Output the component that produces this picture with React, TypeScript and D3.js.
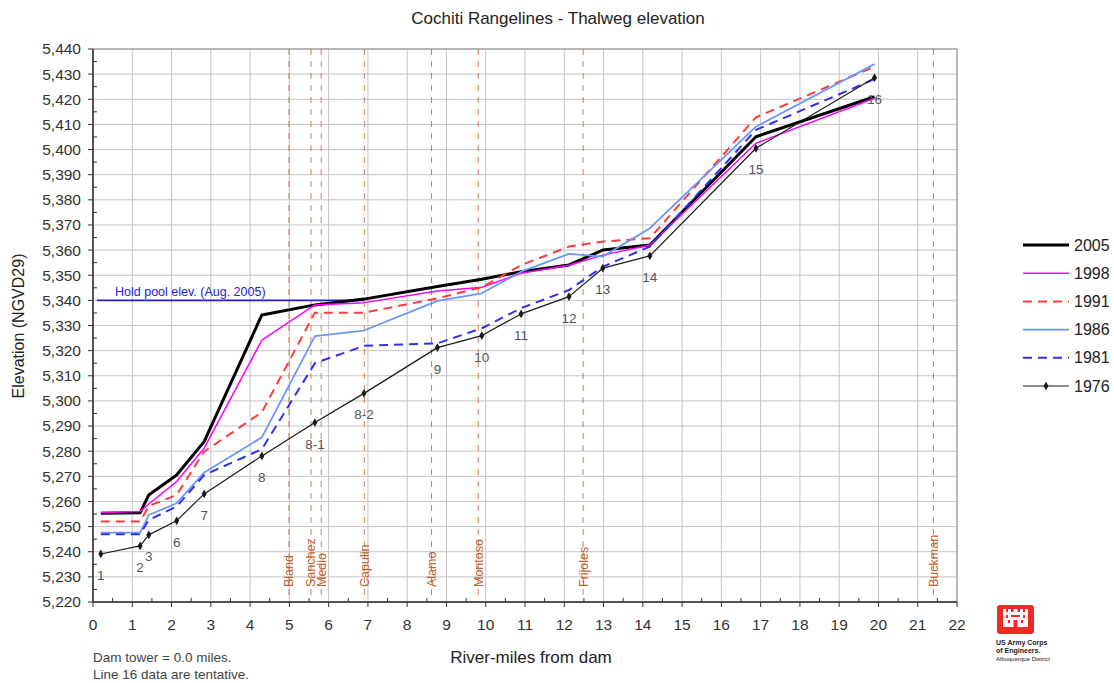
import React from "react";
import * as d3 from "d3";

// ---------- data ----------
const rangeMiles = [0.2, 1.2, 1.42, 2.13, 2.83, 4.3, 5.65, 6.9, 8.77, 9.9, 10.9, 12.12, 12.98, 14.18, 16.88, 19.9];
const rangeLabels = ["1", "2", "3", "6", "7", "8", "8-1", "8-2", "9", "10", "11", "12", "13", "14", "15", "16"];

const elev2005 = [5255.3, 5255.5, 5262.6, 5270.5, 5283.8, 5334.2, 5338.2, 5340.5, 5345.5, 5348.4, 5351.4, 5354.1, 5360.0, 5362.0, 5405.1, 5421.0];
const elev1998 = [5255.6, 5256.0, 5259.0, 5267.9, 5281.2, 5324.2, 5338.2, 5339.1, 5343.7, 5345.2, 5350.8, 5354.0, 5358.0, 5362.0, 5402.5, 5420.4];
const elev1991 = [5252.0, 5252.0, 5258.2, 5262.6, 5279.8, 5295.5, 5335.1, 5335.1, 5340.8, 5345.2, 5354.0, 5361.4, 5363.4, 5364.7, 5412.8, 5433.0];
const elev1986 = [5247.6, 5247.6, 5254.6, 5259.3, 5271.5, 5285.5, 5325.8, 5328.0, 5339.8, 5342.8, 5351.4, 5358.5, 5357.4, 5368.7, 5409.1, 5434.0];
const elev1981 = [5247.0, 5247.0, 5252.6, 5258.0, 5270.5, 5280.8, 5315.0, 5321.9, 5322.9, 5328.9, 5336.9, 5344.1, 5353.4, 5361.4, 5407.8, 5428.0];
const elev1976 = [5239.1, 5242.3, 5246.7, 5252.3, 5263.0, 5278.1, 5291.4, 5303.0, 5321.2, 5326.0, 5334.6, 5341.5, 5352.8, 5357.7, 5400.5, 5428.6];

const seriesNames = ["2005", "1998", "1991", "1986", "1981", "1976"];
const seriesValues = [elev2005, elev1998, elev1991, elev1986, elev1981, elev1976];

const landmarkNames = ["Bland", "Sanchez", "Medio", "Capulin", "Alamo", "Montoso", "Frijoles", "Buckman"];
const landmarkMiles = [4.99, 5.55, 5.81, 6.91, 8.62, 9.81, 12.48, 21.4];

const holdPoolElev = 5340;
const holdPoolMiles = [0.1, 6.9];
const holdPoolLabel = "Hold pool elev. (Aug. 2005)";

const xTicks = d3.range(0, 23, 1);
const yTicks = d3.range(5220, 5441, 10);
const xMinor = d3.range(0.5, 22, 1);
const yMinor = d3.range(5225, 5440, 10);

// ---------- styles ----------
const seriesStyle: Record<string, { color: string; width: number; dash?: string; marker?: boolean }> = {
  "2005": { color: "#000000", width: 3 },
  "1998": { color: "#ff00ff", width: 1.5 },
  "1991": { color: "#ff3b3b", width: 2, dash: "9,6" },
  "1986": { color: "#6b95ff", width: 1.8 },
  "1981": { color: "#3030f0", width: 2, dash: "9,6" },
  "1976": { color: "#1a1a1a", width: 1.2, marker: true },
};

const W = 1114;
const H = 683;
const plot = { left: 93, right: 957, top: 49, bottom: 602 };
const FONT = "'Liberation Sans', Arial, Helvetica, sans-serif";
const LANDMARK_COLOR = "#c0602c";

export default function App() {
  const x = d3.scaleLinear().domain([0, 22]).range([plot.left, plot.right]);
  const y = d3.scaleLinear().domain([5220, 5440]).range([plot.bottom, plot.top]);
  const line = d3
    .line<number>()
    .x((_, i) => x(rangeMiles[i]))
    .y((v) => y(v));

  const fmt = d3.format(",");

  return (
    <svg
      width={W}
      height={H}
      style={{ position: "absolute", left: 0, top: 0, background: "#fff" }}
      fontFamily={FONT}
    >
      <rect x={0} y={0} width={W} height={H} fill="#fff" />
      {/* title */}
      <text x={558} y={24} textAnchor="middle" fontSize={17} fill="#222">
        Cochiti Rangelines - Thalweg elevation
      </text>

      {/* grid */}
      {xTicks.map((t) => (
        <line key={"gx" + t} x1={x(t)} x2={x(t)} y1={plot.top} y2={plot.bottom} stroke="#c4c4c4" strokeWidth={1} />
      ))}
      {yTicks.map((t) => (
        <line key={"gy" + t} x1={plot.left} x2={plot.right} y1={y(t)} y2={y(t)} stroke="#c4c4c4" strokeWidth={1} />
      ))}
      <rect
        x={plot.left}
        y={plot.top}
        width={plot.right - plot.left}
        height={plot.bottom - plot.top}
        fill="none"
        stroke="#9a9a9a"
        strokeWidth={1.2}
      />

      {/* landmark lines */}
      {landmarkMiles.map((m, i) => (
        <g key={"lm" + i}>
          <line
            x1={x(m)}
            x2={x(m)}
            y1={plot.top}
            y2={plot.bottom}
            stroke={LANDMARK_COLOR}
            strokeOpacity={0.8}
            strokeWidth={1}
            strokeDasharray="6,6"
          />
          <text
            transform={`translate(${x(m) + 4.5},587) rotate(-90)`}
            fontSize={12.5}
            fill={LANDMARK_COLOR}
          >
            {landmarkNames[i]}
          </text>
        </g>
      ))}

      {/* hold pool */}
      <line
        x1={x(holdPoolMiles[0])}
        x2={x(holdPoolMiles[1])}
        y1={y(holdPoolElev)}
        y2={y(holdPoolElev)}
        stroke="#2323d8"
        strokeWidth={1.6}
      />
      <text x={115} y={y(holdPoolElev) - 4.5} fontSize={12.5} fill="#2323d8">
        {holdPoolLabel}
      </text>

      {/* series */}
      {seriesNames.map((name, si) => {
        const st = seriesStyle[name];
        return (
          <g key={name}>
            <path
              d={line(seriesValues[si]) || ""}
              fill="none"
              stroke={st.color}
              strokeWidth={st.width}
              strokeDasharray={st.dash}
              strokeLinejoin="round"
            />
            {st.marker &&
              seriesValues[si].map((v, i) => (
                <path
                  key={i}
                  d={d3.symbol(d3.symbolDiamond, 22)() || ""}
                  transform={`translate(${x(rangeMiles[i])},${y(v)})`}
                  fill={st.color}
                />
              ))}
          </g>
        );
      })}

      {/* rangeline labels */}
      {rangeLabels.map((lb, i) => (
        <text
          key={"rl" + i}
          x={x(rangeMiles[i])}
          y={y(elev1976[i]) + 26}
          textAnchor="middle"
          fontSize={13.5}
          fill="#555"
        >
          {lb}
        </text>
      ))}

      {/* axes */}
      <line x1={plot.left} x2={plot.left} y1={plot.top} y2={plot.bottom} stroke="#333" strokeWidth={1.5} />
      <line x1={plot.left} x2={plot.right} y1={plot.bottom} y2={plot.bottom} stroke="#333" strokeWidth={1.5} />
      {yTicks.map((t) => (
        <g key={"yt" + t}>
          <line x1={plot.left - 5} x2={plot.left} y1={y(t)} y2={y(t)} stroke="#333" />
          <text x={plot.left - 12} y={y(t)} dy="0.35em" textAnchor="end" fontSize={15.5} fill="#333">
            {fmt(t)}
          </text>
        </g>
      ))}
      {yMinor.map((t) => (
        <line key={"ym" + t} x1={plot.left} x2={plot.left + 4} y1={y(t)} y2={y(t)} stroke="#333" />
      ))}
      {xTicks.map((t) => (
        <g key={"xt" + t}>
          <line x1={x(t)} x2={x(t)} y1={plot.bottom} y2={plot.bottom + 5} stroke="#333" />
          <text x={x(t)} y={plot.bottom + 28} textAnchor="middle" fontSize={15.5} fill="#333">
            {t}
          </text>
        </g>
      ))}
      {xMinor.map((t) => (
        <line key={"xm" + t} x1={x(t)} x2={x(t)} y1={plot.bottom - 4} y2={plot.bottom} stroke="#333" />
      ))}

      {/* axis titles */}
      <text x={531} y={663} textAnchor="middle" fontSize={17} fill="#222">
        River-miles from dam
      </text>
      <text transform="translate(24,326) rotate(-90)" textAnchor="middle" fontSize={16} fill="#222">
        Elevation (NGVD29)
      </text>

      {/* footnote */}
      <text x={93} y={662} fontSize={13.5} fill="#444">
        Dam tower = 0.0 miles.
      </text>
      <text x={93} y={679} fontSize={13.5} fill="#444">
        Line 16 data are tentative.
      </text>

      {/* legend */}
      {seriesNames.map((name, i) => {
        const st = seriesStyle[name];
        const ly = 245 + i * 28.2;
        return (
          <g key={"lg" + name}>
            <line x1={1023} x2={1069} y1={ly} y2={ly} stroke={st.color} strokeWidth={st.width} strokeDasharray={st.dash} />
            {st.marker && (
              <path d={d3.symbol(d3.symbolDiamond, 22)() || ""} transform={`translate(1046,${ly})`} fill={st.color} />
            )}
            <text x={1074} y={ly} dy="0.35em" fontSize={16} fill="#222">
              {name}
            </text>
          </g>
        );
      })}

      {/* USACE logo */}
      <g transform="translate(997,605)">
        <rect x={0} y={0} width={37} height={29} rx={3} fill="#ee2a24" />
        <g fill="#fff">
          <rect x={6} y={7} width={25} height={15} />
          <rect x={6} y={4} width={3} height={3} />
          <rect x={11} y={4} width={3} height={3} />
          <rect x={16.5} y={4} width={4} height={3} />
          <rect x={23} y={4} width={3} height={3} />
          <rect x={28} y={4} width={3} height={3} />
        </g>
        <g fill="#ee2a24">
          <rect x={9} y={10} width={2} height={3} />
          <rect x={26} y={10} width={2} height={3} />
          <rect x={14} y={10} width={9} height={2} />
          <rect x={16.5} y={15} width={4} height={7} />
          <rect x={11} y={15} width={2} height={3} />
          <rect x={24} y={15} width={2} height={3} />
        </g>
      </g>
      <g fontSize={7} fontWeight="bold" fill="#222">
        <text x={996} y={645}>US Army Corps</text>
        <text x={996} y={653}>of Engineers.</text>
        <text x={996} y={661} fontSize={6} fontWeight="normal">
          Albuquerque District
        </text>
      </g>
    </svg>
  );
}
